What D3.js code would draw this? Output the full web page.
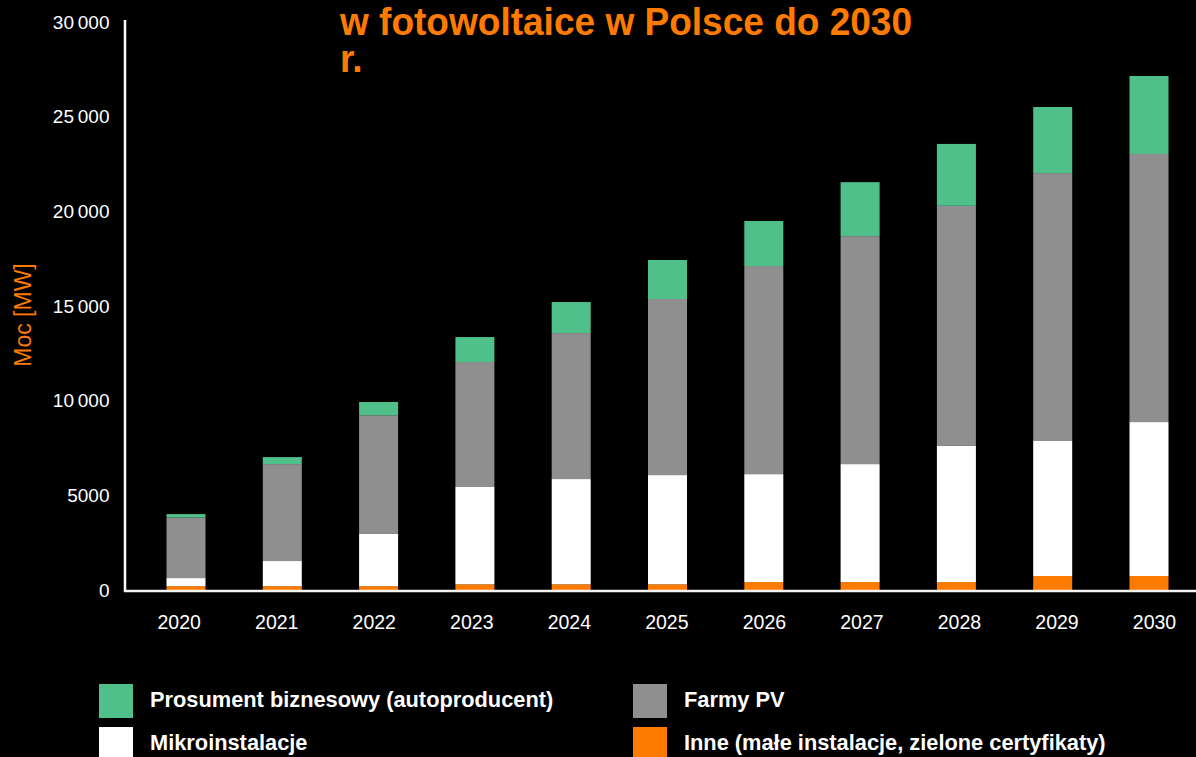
<!DOCTYPE html>
<html lang="pl">
<head>
<meta charset="utf-8">
<script src="https://cdn.jsdelivr.net/npm/d3@7"></script>
<style>
  html, body { margin: 0; padding: 0; background: #000; }
  svg { display: block; font-family: "Liberation Sans", Arial, Helvetica, sans-serif; }
</style>
</head>
<body>
<svg id="chart" width="1196" height="757"></svg>
<script>
// Installed PV capacity in Poland, MW, by segment
const years = ["2020", "2021", "2022", "2023", "2024", "2025", "2026", "2027", "2028", "2029", "2030"];
const inne = [200, 200, 200, 300, 300, 300, 420, 420, 420, 740, 740];
const mikroinstalacje = [430, 1330, 2760, 5140, 5560, 5770, 5700, 6230, 7190, 7130, 8130];
const farmyPV = [3200, 5120, 6270, 6600, 7710, 9300, 10990, 12040, 12680, 14150, 14160];
const prosument = [180, 370, 700, 1320, 1640, 2060, 2380, 2850, 3270, 3490, 4120];
const yTicks = [0, 5000, 10000, 15000, 20000, 25000, 30000];
const titleLines = ["w fotowoltaice w Polsce do 2030", "r."];

const seriesKeys = ["inne", "mikro", "farmy", "prosument"];
const colors = { inne: "#ff7b00", mikro: "#ffffff", farmy: "#8f8f8f", prosument: "#50c08a" };
const legendItems = [
  { key: "prosument", label: "Prosument biznesowy (autoproducent)" },
  { key: "farmy", label: "Farmy PV" },
  { key: "mikro", label: "Mikroinstalacje" },
  { key: "inne", label: "Inne (małe instalacje, zielone certyfikaty)" }
];

const rows = years.map((yr, i) => ({
  year: yr, inne: inne[i], mikro: mikroinstalacje[i], farmy: farmyPV[i], prosument: prosument[i]
}));

const svg = d3.select("#chart");
const orange = "#ff7b00";

const y = d3.scaleLinear().domain([0, 30000]).range([590, 22]);
const x = d3.scaleBand().domain(years).range([137.85, 1197.15]).paddingInner(0.595).paddingOuter(0.2975);
const xLabel = d3.scalePoint().domain(years).range([178.7, 1154]);

const fmt = v => v >= 10000 ? d3.format(",")(v).replace(/,/g, "\u2009") : String(v);

// stacked bars
const stacked = d3.stack().keys(seriesKeys)(rows);
svg.append("g").selectAll("g")
  .data(stacked)
  .join("g")
  .attr("fill", d => colors[d.key])
  .selectAll("rect")
  .data(d => d)
  .join("rect")
  .attr("x", d => x(d.data.year))
  .attr("width", x.bandwidth())
  .attr("y", d => y(d[1]))
  .attr("height", d => y(d[0]) - y(d[1]));

// y axis
const yAxis = svg.append("g")
  .attr("transform", "translate(125,0)")
  .call(d3.axisLeft(y).tickValues(yTicks).tickFormat(fmt).tickSize(0).tickPadding(15.5));
yAxis.select(".domain").attr("stroke", "#fff").attr("stroke-width", 2.5).attr("d", "M0,20V592");
yAxis.selectAll("text").attr("fill", "#fff").attr("font-size", 19).attr("font-family", "Liberation Sans, Arial, sans-serif");

// x axis baseline
svg.append("line")
  .attr("x1", 124).attr("x2", 1196).attr("y1", 591).attr("y2", 591)
  .attr("stroke", "#f2f2f2").attr("stroke-width", 2.5);

const xAxis = svg.append("g")
  .attr("transform", "translate(0,591)")
  .call(d3.axisBottom(xLabel).tickSize(0).tickPadding(24));
xAxis.select(".domain").remove();
xAxis.selectAll("text").attr("fill", "#fff").attr("font-size", 19.5).attr("font-family", "Liberation Sans, Arial, sans-serif");

// y axis title
svg.append("text")
  .attr("transform", "translate(31,315) rotate(-90)")
  .attr("text-anchor", "middle")
  .attr("fill", orange)
  .attr("font-size", 23)
  .text("Moc [MW]");

// chart title, slightly condensed bold lines
svg.append("g")
  .selectAll("text")
  .data(titleLines)
  .join("text")
  .attr("transform", (d, i) => `translate(340,${35 + i * 36.5}) scale(0.95,1)`)
  .attr("fill", orange)
  .attr("font-size", 39)
  .attr("font-weight", "bold")
  .text(d => d);

// legend
const legend = svg.append("g");
const lg = legend.selectAll("g")
  .data(legendItems)
  .join("g")
  .attr("transform", (d, i) => `translate(${i % 2 === 0 ? 99 : 633},${i < 2 ? 684 : 727})`);
lg.append("rect")
  .attr("width", 34).attr("height", 34)
  .attr("fill", d => colors[d.key]);
lg.append("text")
  .attr("x", 51).attr("y", 22.5)
  .attr("fill", "#fff")
  .attr("font-size", 21.8)
  .attr("font-weight", "bold")
  .text(d => d.label);
</script>
</body>
</html>
